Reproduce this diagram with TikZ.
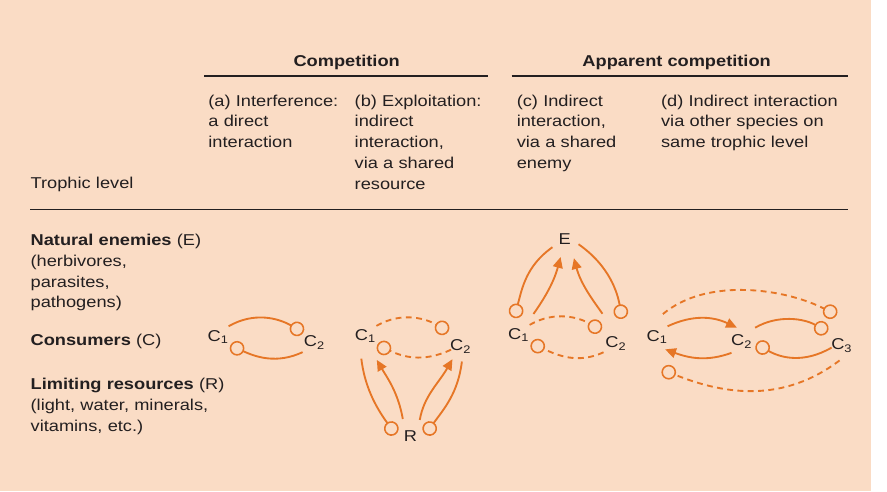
\documentclass[tikz,border=0pt]{standalone}
\usepackage{fontspec}
\setmainfont{Liberation Sans}[FakeStretch=1.16]
\usetikzlibrary{arrows.meta}
\definecolor{trbg}{RGB}{250,220,197}
\definecolor{trink}{RGB}{35,31,32}
\definecolor{trorange}{RGB}{230,118,38}
\tikzset{
  tr/.style={font=\fontsize{16}{21.2}\selectfont, text=trink},
  trtxt/.style={tr, anchor=base west, inner sep=0pt, text width=230pt, align=left},
  trhead/.style={tr, font=\fontsize{16}{21.2}\selectfont\bfseries, anchor=base, inner sep=0pt},
  trrule/.style={draw=trink, line width=1.3pt},
  trspp/.style={tr, circle, inner sep=0pt, minimum size=30pt},
  trlink/.style={draw=trorange, line width=1.9pt},
  trdash/.style={dash pattern=on 6pt off 4.5pt},
  trarr/.style={-{Triangle[length=11pt,width=10pt]}},
  trinh/.style={-{Circle[open,length=15pt,width=15pt,line width=1.6pt]}},
}

\begin{document}
\begin{tikzpicture}[x=1pt,y=1pt,tr]
  \fill[trbg] (0,0) rectangle (887,-500);

  % headings
  \node[trhead] (hcomp) at (353,-68) {Competition};
  \node[trhead] (happ) at (689,-68) {Apparent competition};
  \draw[trrule] (208,-77.5) -- (497,-77.5);
  \draw[trrule] (521,-77.5) -- (863,-77.5);

  \node[trtxt] (cola) at (212,-108) {(a) Interference:\\a direct\\interaction};
  \node[trtxt] (colb) at (361,-108) {(b) Exploitation:\\indirect\\interaction,\\via a shared\\resource};
  \node[trtxt] (colc) at (526,-108) {(c) Indirect\\interaction,\\via a shared\\enemy};
  \node[trtxt] (cold) at (673,-108) {(d) Indirect interaction\\via other species on\\same trophic level};
  \node[trtxt] (lvl) at (31,-192) {Trophic level};
  \draw[trrule] (31,-213) -- (863,-213);

  % trophic levels
  \node[trtxt] (rowE) at (31,-250) {\textbf{Natural enemies} (E)\\(herbivores,\\parasites,\\pathogens)};
  \node[trtxt] (rowC) at (31,-352) {\textbf{Consumers} (C)};
  \node[trtxt] (rowR) at (31,-397) {\textbf{Limiting resources} (R)\\(light, water, minerals,\\vitamins, etc.)};

  % (a) interference
  \node[trspp] (a1) at (222,-343) {C\textsubscript{1}};
  \node[trspp] (a2) at (320,-349) {C\textsubscript{2}};
  \draw[trlink,trinh] (a1.45) to[out=30,in=150] (a2.137);
  \draw[trlink,trinh] (a2.219) to[out=205,in=-25] (a1.-34);

  % (b) exploitation
  \node[trspp] (b1) at (372,-342) {C\textsubscript{1}};
  \node[trspp] (b2) at (469,-353) {C\textsubscript{2}};
  \node[trspp] (br) at (418,-444) {R};
  \draw[trlink,trdash,trinh,shorten >=5pt] (b1.42) to[out=30,in=150] (b2.122);
  \draw[trlink,trdash,trinh,shorten <=-5pt] (b2.200) to[out=205,in=-25] (b1.-37);
  \draw[trlink,trinh,shorten <=9pt] (b1.250) to[out=-83,in=126] (br.174);
  \draw[trlink,trarr,shorten <=4pt,shorten >=12pt] (br.118) to[out=100,in=-60] (b1.-68);
  \draw[trlink,trarr,shorten <=4pt] (br.55) to[out=80,in=-120] (b2.237);
  \draw[trlink,trinh] (b2.-85) to[out=-97,in=54] (br.6);

  % (c) shared enemy
  \node[trspp] (c1) at (528,-341) {C\textsubscript{1}};
  \node[trspp] (c2) at (627,-350) {C\textsubscript{2}};
  \node[trspp] (ce) at (575,-243) {E};
  \draw[trlink,trinh,shorten >=3pt] (ce.215) to[out=215,in=75] (c1.110);
  \draw[trlink,trarr,shorten <=11pt,shorten >=4pt] (c1.54) to[out=55,in=-105] (ce.258);
  \draw[trlink,trarr,shorten <=19pt,shorten >=7pt] (c2.100) to[out=125,in=-75] (ce.300);
  \draw[trlink,trinh,shorten >=13pt] (ce.-22) to[out=-35,in=100] (c2.55);
  \draw[trlink,trdash,trinh,shorten >=5pt] (c1.42) to[out=30,in=150] (c2.133);
  \draw[trlink,trdash,trinh] (c2.215) to[out=205,in=-25] (c1.-33);

  % (d) other species on the same level
  \node[trspp] (d1) at (669,-343) {C\textsubscript{1}};
  \node[trspp] (d2) at (755,-348) {C\textsubscript{2}};
  \node[trspp] (d3) at (857,-352) {C\textsubscript{3}};
  \draw[trlink,trarr] (d1.45) to[out=25,in=155] (d2.108);
  \draw[trlink,trarr] (d2.228) to[out=200,in=-20] (d1.-57);
  \draw[trlink,trinh,shorten <=5pt,shorten >=5pt] (d2.51) to[out=30,in=150] (d3.131);
  \draw[trlink,trinh,shorten <=-5pt] (d3.197) to[out=210,in=-30] (d2.-8);
  \draw[trlink,trdash,trinh] ([shift={(6,8)}]d1.north) to[out=40,in=153,looseness=0.85] ([shift={(-5,16)}]d3.north);
  \draw[trlink,trdash,trinh] (d3.262) to[out=217,in=-22] ([shift={(5,-18)}]d1.south);
\end{tikzpicture}
\end{document}
